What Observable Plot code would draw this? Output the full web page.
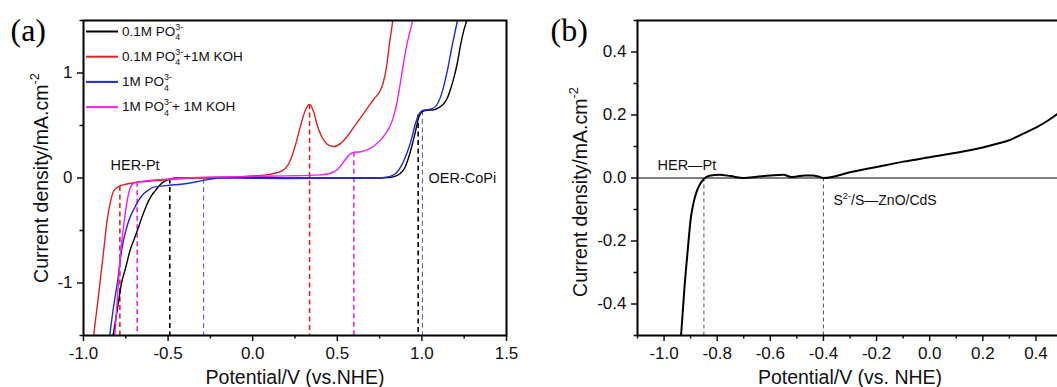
<!DOCTYPE html>
<html>
<head>
<meta charset="utf-8">
<script src="https://cdn.jsdelivr.net/npm/d3@7"></script>
<script src="https://cdn.jsdelivr.net/npm/@observablehq/plot@0.6"></script>
<style>
  body { margin: 0; background: #fff; }
  #wrap { width: 1057px; height: 387px; overflow: hidden; display: flex; background: #fff; }
  #wrap > div { flex-shrink: 0; }
</style>
</head>
<body>
<div id="wrap"><div id="pa"></div><div id="pb"></div></div>
<script>
// ---------- Panel (a) data ----------
const seriesNames = ["0.1M PO_{4}^{3-}", "0.1M PO_{4}^{3-}+1M KOH", "1M PO_{4}^{3-}", "1M PO_{4}^{3-}+ 1M KOH"];
const seriesColors = ["#000000", "#dd2222", "#2626d8", "#f022f0"];

const curveBlack = [
  [-0.825,-1.5],[-0.8,-1.25],[-0.775,-1.0],[-0.75,-0.85],[-0.725,-0.69],[-0.7,-0.58],[-0.675,-0.47],
  [-0.655,-0.375],[-0.635,-0.29],[-0.615,-0.216],[-0.595,-0.16],[-0.575,-0.12],[-0.55,-0.07],
  [-0.52,-0.03],[-0.49,-0.01],[-0.45,0.0],[-0.3,0.003],[-0.1,0.005],[0.1,0.003],[0.3,0.0],[0.5,0.0],
  [0.7,0.0],[0.8,0.005],[0.84,0.015],[0.87,0.04],[0.9,0.1],[0.93,0.24],[0.96,0.43],[0.98,0.57],
  [1.0,0.63],[1.03,0.645],[1.07,0.65],[1.1,0.67],[1.13,0.71],[1.15,0.76],[1.17,0.85],[1.19,0.96],
  [1.21,1.1],[1.23,1.28],[1.25,1.42],[1.264,1.5],[1.27,1.56]
];
const curveRed = [
  [-0.94,-1.5],[-0.91,-1.1],[-0.88,-0.68],[-0.86,-0.4],[-0.84,-0.22],[-0.82,-0.12],[-0.79,-0.08],
  [-0.75,-0.06],[-0.7,-0.045],[-0.6,-0.03],[-0.5,-0.015],[-0.4,-0.005],[-0.2,0.005],[0.0,0.02],
  [0.1,0.035],[0.18,0.075],[0.22,0.16],[0.25,0.3],[0.28,0.48],[0.31,0.64],[0.335,0.70],[0.36,0.63],
  [0.38,0.51],[0.42,0.36],[0.45,0.31],[0.48,0.30],[0.52,0.33],[0.56,0.40],[0.6,0.49],[0.64,0.58],
  [0.68,0.67],[0.72,0.76],[0.75,0.82],[0.77,0.9],[0.79,1.05],[0.81,1.3],[0.828,1.5],[0.835,1.58]
];
const curveBlue = [
  [-0.845,-1.5],[-0.82,-1.2],[-0.8,-1.0],[-0.775,-0.69],[-0.75,-0.5],[-0.725,-0.375],[-0.7,-0.29],
  [-0.675,-0.216],[-0.65,-0.16],[-0.62,-0.12],[-0.59,-0.09],[-0.55,-0.08],[-0.5,-0.07],[-0.4,-0.055],
  [-0.3,-0.025],[-0.25,-0.01],[-0.2,0.0],[0.0,-0.003],[0.2,-0.005],[0.4,-0.003],[0.6,0.0],[0.7,0.0],
  [0.78,0.005],[0.82,0.02],[0.85,0.05],[0.88,0.12],[0.91,0.23],[0.94,0.38],[0.96,0.51],[0.98,0.6],
  [1.0,0.64],[1.03,0.65],[1.06,0.66],[1.09,0.7],[1.12,0.82],[1.15,1.02],[1.18,1.27],[1.21,1.5],[1.22,1.58]
];
const curveMagenta = [
  [-0.815,-1.5],[-0.8,-1.15],[-0.78,-0.7],[-0.76,-0.42],[-0.74,-0.2],[-0.72,-0.08],[-0.7,-0.045],
  [-0.65,-0.03],[-0.6,-0.02],[-0.5,-0.01],[-0.4,0.0],[-0.2,0.01],[0.0,0.015],[0.2,0.02],[0.4,0.03],
  [0.45,0.04],[0.5,0.08],[0.54,0.16],[0.57,0.22],[0.6,0.245],[0.64,0.25],[0.68,0.27],[0.72,0.31],
  [0.76,0.37],[0.8,0.46],[0.83,0.57],[0.85,0.7],[0.87,0.88],[0.89,1.08],[0.91,1.26],[0.93,1.4],
  [0.946,1.5],[0.955,1.58]
];
const curvesA = [curveBlack, curveRed, curveBlue, curveMagenta];

// dashed marker lines in (a): potential, top current, series index
const dashX   = [-0.785, -0.683, -0.49, -0.29, 0.336, 0.598, 0.978, 1.003];
const dashTop = [-0.08, -0.04, -0.01, -0.01, 0.70, 0.245, 0.60, 0.64];
const dashSer = [1, 3, 0, 2, 1, 3, 0, 2];

const aTicksX = [-1.0, -0.5, 0.0, 0.5, 1.0, 1.5];
const aMinorX = [-0.75, -0.25, 0.25, 0.75, 1.25];
const aTicksY = [-1, 0, 1];
const aMinorY = [-1.5, -0.5, 0.5, 1.5];

// ---------- Panel (b) data ----------
const curveB = [
  [-0.936,-0.5],[-0.924,-0.357],[-0.911,-0.23],[-0.899,-0.125],[-0.888,-0.075],[-0.88,-0.05],
  [-0.865,-0.02],[-0.85,-0.003],[-0.83,0.007],[-0.79,0.01],[-0.75,0.006],[-0.7,0.0],[-0.65,0.004],
  [-0.6,0.008],[-0.55,0.01],[-0.52,0.003],[-0.5,0.005],[-0.47,0.008],[-0.44,0.008],[-0.42,0.005],
  [-0.4,0.0],[-0.3,0.018],[-0.2,0.035],[-0.1,0.052],[0.0,0.066],[0.1,0.08],[0.2,0.097],[0.25,0.108],
  [0.3,0.12],[0.35,0.14],[0.4,0.16],[0.45,0.185],[0.5,0.215]
];
const dashBX = [-0.85, -0.40];
const bTicksX = [-1.0, -0.8, -0.6, -0.4, -0.2, 0.0, 0.2, 0.4];
const bMinorX = [-1.1, -0.9, -0.7, -0.5, -0.3, -0.1, 0.1, 0.3, 0.5];
const bTicksY = [-0.4, -0.2, 0.0, 0.2, 0.4];
const bMinorY = [-0.5, -0.3, -0.1, 0.1, 0.3, 0.5];

// ---------- helpers ----------
const hy = d => (d < 0 ? "-" : "") + Math.abs(d).toFixed(1);
const hyInt = d => (d < 0 ? "-" : "") + Math.abs(d);
const FONT = "'Liberation Sans', Arial, Helvetica, sans-serif";

function richify(svg) {
  d3.select(svg).selectAll("text").each(function() {
    const s = this.textContent;
    if (!/[_^]\{/.test(s)) return;
    const fs = parseFloat(getComputedStyle(this).fontSize);
    const sfs = fs * 0.66;
    const el = d3.select(this);
    el.text(null);
    let shift = 0;
    const re = /_\{([^}]*)\}\^\{([^}]*)\}|\^\{([^}]*)\}|[^_^]+/g;
    let m;
    while ((m = re.exec(s))) {
      if (m[1] !== undefined) {
        const sub = el.append("tspan").attr("font-size", sfs).attr("dy", 0.33 * fs - shift).text(m[1]);
        const w = sub.node().getComputedTextLength();
        el.append("tspan").attr("font-size", sfs).attr("dx", -w).attr("dy", -0.78 * fs).text(m[2]);
        shift = -0.45 * fs;
      } else if (m[3] !== undefined) {
        el.append("tspan").attr("font-size", sfs).attr("dy", -0.45 * fs - shift).text(m[3]);
        shift = -0.45 * fs;
      } else {
        el.append("tspan").attr("dy", -shift).text(m[0]);
        shift = 0;
      }
    }
  });
}

// ---------- Panel (a) ----------
const aDom = {x: [-1, 1.5], y: [-1.5, 1.5]};
const aM = {l: 83, r: 24, t: 20, b: 52, w: 530, h: 387};
const aPxX = px => aDom.x[0] + (px - aM.l) / (aM.w - aM.l - aM.r) * (aDom.x[1] - aDom.x[0]);
const aPxY = py => aDom.y[1] - (py - aM.t) / (aM.h - aM.t - aM.b) * (aDom.y[1] - aDom.y[0]);

const legendRows = seriesNames.map((name, i) => ({
  name, color: seriesColors[i],
  y: aPxY(31 + 25.2 * i), x1: aPxX(86), x2: aPxX(118), xt: aPxX(121.5)
}));

const dashData = dashX.map((x, i) => ({x, top: dashTop[i], s: dashSer[i]}));

const markA = [
  Plot.axisX(aTicksX, {tickSize: 6, tickPadding: 5, tickFormat: hy, label: null, fontSize: 17, strokeWidth: 1.5}),
  Plot.axisX(aMinorX, {tickSize: 3.5, text: null, label: null, strokeWidth: 1.5}),
  Plot.axisY(aTicksY, {tickSize: 6, tickPadding: 5, tickFormat: hyInt, label: null, fontSize: 17, strokeWidth: 1.5}),
  Plot.axisY(aMinorY, {tickSize: 3.5, text: null, label: null, strokeWidth: 1.5}),
  ...dashData.map(d => Plot.ruleX([d], {
    x: "x", y1: "top", y2: aDom.y[0],
    stroke: d.s === 2 ? "#5c5ce0" : seriesColors[d.s],
    strokeWidth: d.s === 2 ? 1.1 : 1.6,
    strokeDasharray: "5,3.5"
  })),
  ...curvesA.map((c, i) => Plot.line(c, {
    x: d => d[0], y: d => d[1], stroke: seriesColors[i], strokeWidth: 1.4, curve: "monotone-x", clip: true
  })),
  Plot.ruleY(legendRows, {y: "y", x1: "x1", x2: "x2", stroke: "color", strokeWidth: 2}),
  Plot.text(legendRows, {x: "xt", y: "y", text: "name", textAnchor: "start", lineAnchor: "middle", fontSize: 13.5, fill: "#111"}),
  Plot.text(["HER-Pt"], {x: aPxX(110), y: aPxY(165), textAnchor: "start", lineAnchor: "middle", fontSize: 14.5, fill: "#111"}),
  Plot.text(["OER-CoPi"], {x: aPxX(428), y: aPxY(178), textAnchor: "start", lineAnchor: "middle", fontSize: 14.5, fill: "#111"}),
  Plot.text(["Current density/mA.cm^{-2}"], {frameAnchor: "left", dx: -42, rotate: -90, textAnchor: "middle", lineAnchor: "middle", fontSize: 19.5, fill: "#111"}),
  Plot.text(["Potential/V (vs.NHE)"], {frameAnchor: "bottom", dy: 42, textAnchor: "middle", lineAnchor: "middle", fontSize: 19.5, fill: "#111"}),
  Plot.text(["(a)"], {frameAnchor: "top-left", dx: -73, dy: 10, textAnchor: "start", lineAnchor: "middle", fontSize: 32, fontFamily: "'Liberation Serif', 'Times New Roman', serif", fill: "#000"}),
  Plot.frame({stroke: "#000", strokeWidth: 2})
];

const plotA = Plot.plot({
  width: aM.w, height: aM.h, marginLeft: aM.l, marginRight: aM.r, marginTop: aM.t, marginBottom: aM.b,
  style: {fontFamily: FONT, fontSize: "17px", background: "#fff", color: "#111", overflow: "visible"},
  x: {domain: aDom.x}, y: {domain: aDom.y},
  marks: markA
});

// ---------- Panel (b) ----------
const bDom = {x: [-1.1, 0.5], y: [-0.5, 0.5]};
const bM = {l: 107, r: 0, t: 20, b: 52, w: 532, h: 387};
const bPxX = px => bDom.x[0] + (px - bM.l) / (bM.w - bM.l - bM.r) * (bDom.x[1] - bDom.x[0]);
const bPxY = py => bDom.y[1] - (py - bM.t) / (bM.h - bM.t - bM.b) * (bDom.y[1] - bDom.y[0]);

const plotB = Plot.plot({
  width: bM.w, height: bM.h, marginLeft: bM.l, marginRight: bM.r, marginTop: bM.t, marginBottom: bM.b,
  style: {fontFamily: FONT, fontSize: "17px", background: "#fff", color: "#111", overflow: "visible"},
  x: {domain: bDom.x}, y: {domain: bDom.y},
  marks: [
    Plot.axisX(bTicksX, {tickSize: 6, tickPadding: 5, tickFormat: hy, label: null, fontSize: 17, strokeWidth: 1.5}),
    Plot.axisX(bMinorX, {tickSize: 3.5, text: null, label: null, strokeWidth: 1.5}),
    Plot.axisY(bTicksY, {tickSize: 6, tickPadding: 5, tickFormat: hy, label: null, fontSize: 17, strokeWidth: 1.5}),
    Plot.axisY(bMinorY, {tickSize: 3.5, text: null, label: null, strokeWidth: 1.5}),
    Plot.ruleY([0], {stroke: "#000", strokeWidth: 1}),
    Plot.ruleX(dashBX, {y1: 0, y2: bDom.y[0], stroke: "#555", strokeWidth: 1, strokeDasharray: "4,3"}),
    Plot.line(curveB, {x: d => d[0], y: d => d[1], stroke: "#000", strokeWidth: 2, curve: "monotone-x", clip: true}),
    Plot.text(["HER—Pt"], {x: bPxX(657 - 530), y: bPxY(165), textAnchor: "start", lineAnchor: "middle", fontSize: 14.5, fill: "#111"}),
    Plot.text(["S^{2-}/S—ZnO/CdS"], {x: bPxX(833 - 530), y: bPxY(200), textAnchor: "start", lineAnchor: "middle", fontSize: 14, fill: "#111"}),
    Plot.text(["Current density/mA.cm^{-2}"], {frameAnchor: "left", dx: -57, dy: 14, rotate: -90, textAnchor: "middle", lineAnchor: "middle", fontSize: 19.5, fill: "#111"}),
    Plot.text(["Potential/V (vs. NHE)"], {frameAnchor: "bottom", dy: 42, textAnchor: "middle", lineAnchor: "middle", fontSize: 19.5, fill: "#111"}),
    Plot.text(["(b)"], {frameAnchor: "top-left", dx: -87, dy: 10, textAnchor: "start", lineAnchor: "middle", fontSize: 32, fontFamily: "'Liberation Serif', 'Times New Roman', serif", fill: "#000"}),
    Plot.frame({stroke: "#000", strokeWidth: 2})
  ]
});

document.getElementById("pa").appendChild(plotA);
document.getElementById("pb").appendChild(plotB);
richify(plotA);
richify(plotB);
</script>
</body>
</html>
